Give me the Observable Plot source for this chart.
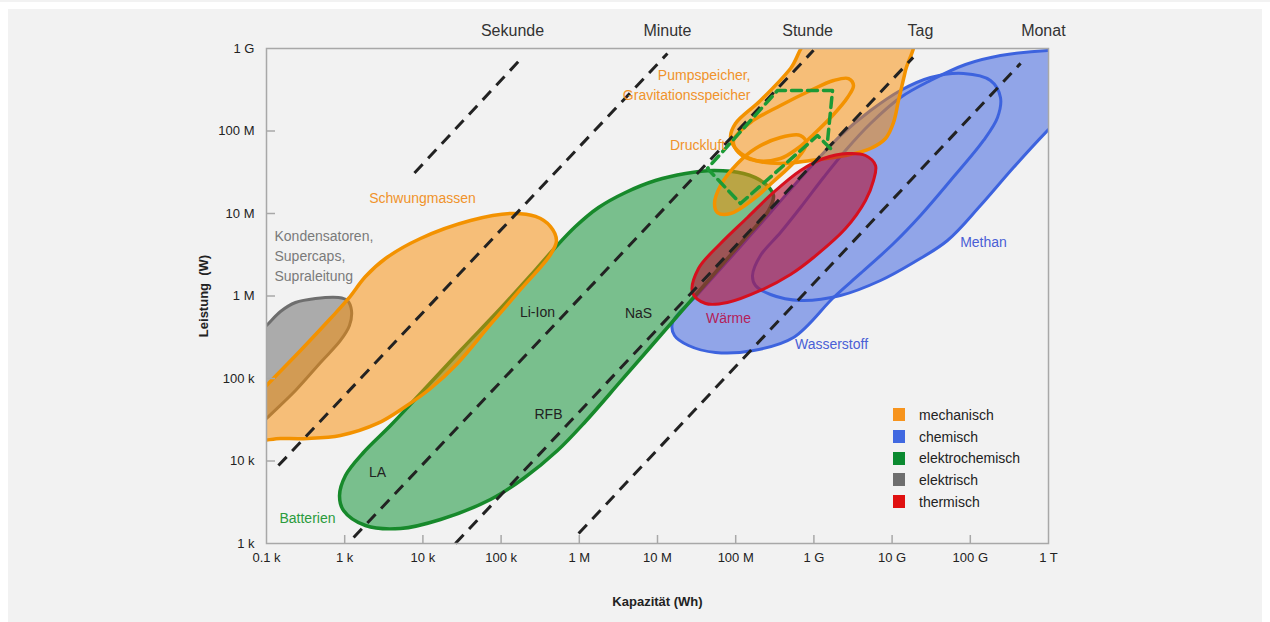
<!DOCTYPE html>
<html><head><meta charset="utf-8">
<script src="https://cdn.jsdelivr.net/npm/d3@7"></script>
<script src="https://cdn.jsdelivr.net/npm/@observablehq/plot@0.6"></script>
<style>
html,body{margin:0;padding:0;background:#fff;}
body{width:1270px;height:622px;position:relative;overflow:hidden;font-family:"Liberation Sans",Arial,sans-serif;}
#topstrip{position:absolute;left:0;top:0;width:1270px;height:2px;background:#f2f2f2;}
#panel{position:absolute;left:8px;top:9px;width:1254px;height:613px;background:#f2f2f2;}
#chart{position:absolute;left:0;top:0;}
#legend{position:absolute;left:893px;top:404px;font-size:14px;color:#222;}
.item{display:flex;align-items:center;height:21.7px;}
.sw{width:12px;height:13px;margin-right:14px;flex:none;}
</style></head><body>
<div id="topstrip"></div><div id="panel"></div><div id="chart"></div><div id="legend"></div>
<script>
// ---- axis ticks ----
const xTicks = [1e2,1e3,1e4,1e5,1e6,1e7,1e8,1e9,1e10,1e11,1e12];
const xTickLabels = ["0.1 k","1 k","10 k","100 k","1 M","10 M","100 M","1 G","10 G","100 G","1 T"];
const yTicks = [1e3,1e4,1e5,1e6,1e7,1e8,1e9];
const yTickLabels = ["1 k","10 k","100 k","1 M","10 M","100 M","1 G"];

// ---- storage regions: outline points as [log10 Kapazität (Wh), log10 Leistung (W)] ----
const kondensatoren = [[1.795,5.461],[2.0,5.642],[2.179,5.812],[2.371,5.921],[2.627,5.970],[2.921,5.982],[3.036,5.945],[3.087,5.824],[3.061,5.642],[2.946,5.461],[2.691,5.194],[2.371,4.855],[2.0,4.515],[1.795,4.321]];
const schwungmassen = [[1.795,4.273],[1.795,4.709],[2.0,4.915],[2.435,5.339],[2.818,5.727],[3.049,5.970],[3.266,6.236],[3.522,6.455],[3.969,6.697],[4.609,6.915],[5.120,7.0],[5.440,6.964],[5.632,6.842],[5.708,6.673],[5.632,6.503],[5.248,6.079],[4.864,5.655],[4.442,5.182],[4.097,4.879],[3.778,4.661],[3.419,4.455],[2.946,4.309],[2.524,4.273],[2.179,4.273]];
const batterien = [[2.934,3.582],[3.010,3.824],[3.240,4.103],[3.586,4.430],[3.969,4.818],[4.481,5.339],[4.992,5.848],[5.376,6.248],[5.670,6.564],[5.951,6.842],[6.246,7.073],[6.591,7.255],[6.974,7.4],[7.358,7.485],[7.716,7.521],[8.100,7.485],[8.355,7.376],[8.483,7.218],[8.419,7.036],[8.061,6.636],[7.550,6.079],[7.038,5.521],[6.527,4.964],[6.079,4.479],[5.721,4.127],[5.286,3.788],[4.864,3.533],[4.225,3.291],[3.714,3.182],[3.266,3.218],[2.985,3.4]];
const pumpspeicher = [[8.957,9.121],[10.261,9.121],[10.171,8.733],[10.082,8.370],[10.018,8.103],[9.916,7.909],[9.724,7.788],[9.404,7.703],[8.957,7.642],[8.573,7.606],[8.253,7.642],[8.023,7.764],[7.934,7.921],[7.997,8.091],[8.317,8.370],[8.701,8.758]];
const gravitation = [[7.972,7.885],[8.189,8.103],[8.573,8.309],[8.957,8.491],[9.251,8.612],[9.443,8.636],[9.506,8.552],[9.430,8.406],[9.251,8.2],[8.995,7.958],[8.790,7.788],[8.573,7.667],[8.253,7.642],[8.036,7.739]];
const druckluft = [[7.729,7.121],[7.806,7.339],[8.023,7.606],[8.253,7.788],[8.573,7.921],[8.829,7.945],[8.905,7.848],[8.765,7.642],[8.483,7.388],[8.253,7.194],[7.934,7.0],[7.767,7.012]];
const waerme = [[7.448,6.042],[7.524,6.333],[7.806,6.636],[8.151,6.952],[8.483,7.255],[8.829,7.521],[9.123,7.667],[9.430,7.727],[9.660,7.703],[9.788,7.582],[9.762,7.4],[9.660,7.158],[9.404,6.818],[8.995,6.467],[8.701,6.261],[8.317,6.067],[7.895,5.921],[7.614,5.909]];
const wasserstoff = [[7.192,5.679],[7.524,6.030],[7.959,6.491],[8.445,7.012],[8.893,7.497],[9.340,7.945],[9.724,8.248],[10.107,8.491],[10.491,8.648],[10.913,8.697],[11.258,8.612],[11.386,8.406],[11.348,8.164],[11.169,7.885],[10.747,7.4],[10.363,6.976],[10.018,6.636],[9.596,6.273],[9.251,5.982],[8.739,5.497],[8.228,5.339],[7.742,5.315],[7.396,5.4],[7.217,5.521]];
const methan = [[8.215,6.248],[8.317,6.491],[8.573,6.770],[8.829,7.073],[9.123,7.436],[9.404,7.764],[9.724,8.091],[10.107,8.406],[10.491,8.612],[10.939,8.806],[11.386,8.915],[11.987,8.976],[12.217,8.976],[12.217,8.224],[11.987,8.006],[11.552,7.558],[11.130,7.097],[10.708,6.673],[10.274,6.406],[9.852,6.188],[9.340,6.006],[8.829,5.945],[8.445,6.018],[8.253,6.127]];
// green dashed outline (open polyline)
const dashedGreen = [[9.212,7.788],[9.046,7.945],[8.061,7.121],[7.639,7.545],[8.535,8.491],[9.238,8.491],[9.174,7.873]];

// ---- time lines (Wh, W endpoints) ----
const timeLines = [
  {name:"Sekunde", e1:7.8e3, p1:3.1e7, e2:1.82e5, p2:7.6e8},
  {name:"Minute",  e1:142,   p1:8.8e3, e2:1.34e7, p2:8.7e8},
  {name:"Stunde",  e1:1.3e3, p1:1.18e3, e2:9.9e8, p2:9.5e8},
  {name:"Tag",     e1:2.6e4, p1:1.0e3, e2:1.86e10, p2:7.8e8},
  {name:"Monat",   e1:9.8e5, p1:1.32e3, e2:4.4e11, p2:6.6e8}
];
const timeLabels = [
  {text:"Sekunde", e:1.4e5}, {text:"Minute", e:1.34e7}, {text:"Stunde", e:8.3e8},
  {text:"Tag", e:2.3e10}, {text:"Monat", e:8.6e11}
];

// ---- region labels (log10 Wh, log10 W) ----
const centerLabels = [
  {text:"Schwungmassen", le:3.995, lp:7.182, cat:"mechanisch"},
  {text:"Li-Ion", le:5.465, lp:5.8, cat:"tech"},
  {text:"NaS", le:6.757, lp:5.788, cat:"tech"},
  {text:"RFB", le:5.606, lp:4.564, cat:"tech"},
  {text:"LA", le:3.419, lp:3.861, cat:"tech"},
  {text:"Batterien", le:2.524, lp:3.303, cat:"elektrochemisch"},
  {text:"Druckluft", le:7.512, lp:7.824, cat:"mechanisch"},
  {text:"Wärme", le:7.908, lp:5.727, cat:"thermisch"},
  {text:"Wasserstoff", le:9.225, lp:5.412, cat:"chemisch"},
  {text:"Methan", le:11.169, lp:6.648, cat:"chemisch"}
];
const leftLabels = [
  {text:"Kondensatoren,", le:2.102, lp:6.721, cat:"elektrisch"},
  {text:"Supercaps,", le:2.102, lp:6.479, cat:"elektrisch"},
  {text:"Supraleitung", le:2.102, lp:6.236, cat:"elektrisch"}
];
const rightLabels = [
  {text:"Pumpspeicher,", le:8.189, lp:8.673, cat:"mechanisch"},
  {text:"Gravitationsspeicher", le:8.189, lp:8.430, cat:"mechanisch"}
];

const legendItems = ["mechanisch","chemisch","elektrochemisch","elektrisch","thermisch"];

// ---- styles ----
const legendColor = {mechanisch:"#f7941d", chemisch:"#4169e1", elektrochemisch:"#0b8a30", elektrisch:"#6e6e6e", thermisch:"#e01010"};
const textColor = {mechanisch:"#f0932b", chemisch:"#4a5fd6", elektrochemisch:"#2a9b3c", elektrisch:"#7a7a7a", thermisch:"#b41e5a", tech:"#222"};

const toRows = (name, pts) => pts.map(([le, lp]) => ({name, e: 10 ** le, p: 10 ** lp}));
const regions = {kondensatoren, schwungmassen, batterien, pumpspeicher, gravitation, druckluft, waerme, wasserstoff, methan};
const rows = Object.entries(regions).flatMap(([n, pts]) => toRows(n, pts));
const pick = names => rows.filter(r => names.includes(r.name));

const fillMark = (names, fill, opts = {}) => Plot.line(pick(names), {x:"e", y:"p", z:"name", curve:"catmull-rom-closed", fill, stroke:"none", clip:true, ...opts});
const strokeMark = (names, stroke, w) => Plot.line(pick(names), {x:"e", y:"p", z:"name", curve:"catmull-rom-closed", fill:"none", stroke, strokeWidth:w, clip:true});

const xFmt = new Map(xTicks.map((t, i) => [t, xTickLabels[i]]));
const yFmt = new Map(yTicks.map((t, i) => [t, yTickLabels[i]]));
const lblRow = d => ({...d, e: 10 ** d.le, p: 10 ** d.lp});

const blue = ["wasserstoff","methan"];
const orange = ["schwungmassen","pumpspeicher","druckluft","gravitation"];

const svg = Plot.plot({
  width:1270, height:622,
  marginLeft:266, marginRight:222, marginTop:48, marginBottom:79,
  style:{background:"transparent", fontFamily:"'Liberation Sans', Arial, sans-serif", fontSize:"13px", color:"#222"},
  x:{type:"log", domain:[1e2,1e12], ticks:xTicks, tickFormat:d => xFmt.get(d) ?? "", tickSize:0, tickPadding:9,
     label:"Kapazität (Wh)", labelAnchor:"center", labelOffset:62, labelArrow:"none"},
  y:{type:"log", domain:[1e3,1e9], ticks:yTicks, tickFormat:d => yFmt.get(d) ?? "", tickSize:0, tickPadding:12,
     label:"Leistung  (W)", labelAnchor:"center", labelOffset:68, labelArrow:"none"},
  marks:[
    fillMark(blue, "#91a5e8"),
    strokeMark(blue, "#3d63de", 3),
    fillMark(["kondensatoren"], "rgb(100,100,100)", {fillOpacity:0.5}),
    strokeMark(["kondensatoren"], "#6e6e6e", 3),
    fillMark(["batterien"], "rgb(0,140,40)", {fillOpacity:0.5}),
    strokeMark(["batterien"], "#17892b", 3.5),
    fillMark(orange, "rgb(250,140,0)", {fillOpacity:0.5, ariaDescription:"orange-fills"}),
    strokeMark(orange, "#f39200", 3.5),
    fillMark(["waerme"], "rgb(180,15,50)", {fillOpacity:0.6}),
    strokeMark(["waerme"], "#d6101e", 3),
    Plot.link(timeLines, {x1:"e1", y1:"p1", x2:"e2", y2:"p2", stroke:"#222", strokeWidth:3, strokeDasharray:"12,8"}),
    Plot.line(toRows("dashed", dashedGreen), {x:"e", y:"p", stroke:"#1c9a36", strokeWidth:3.5, strokeDasharray:"10,6", curve:"linear"}),
    Plot.frame({stroke:"#a8a8a8", strokeWidth:1.5}),
    Plot.tickX(xTicks.slice(1, -1), {x:d => d, stroke:"#a8a8a8", strokeWidth:1.5, insetTop:487}),
    Plot.tickY(yTicks.slice(1, -1), {y:d => d, stroke:"#a8a8a8", strokeWidth:1.5, insetRight:773}),
    Plot.text(centerLabels.map(lblRow), {x:"e", y:"p", text:"text", fill:d => textColor[d.cat], fontSize:14}),
    Plot.text(leftLabels.map(lblRow), {x:"e", y:"p", text:"text", fill:d => textColor[d.cat], fontSize:14, textAnchor:"start"}),
    Plot.text(rightLabels.map(lblRow), {x:"e", y:"p", text:"text", fill:d => textColor[d.cat], fontSize:14, textAnchor:"end"}),
    Plot.text(timeLabels, {x:"e", y:() => 1e9, dy:-18, text:"text", fill:"#333", fontSize:16})
  ]
});

// merge overlapping orange fills into one uniformly translucent layer
const og = svg.querySelector('g[aria-description="orange-fills"]');
if (og) {
  og.setAttribute("fill-opacity", 1);
  og.querySelectorAll("path").forEach(p => p.setAttribute("fill-opacity", 1));
  og.setAttribute("opacity", 0.5);
}
svg.querySelectorAll('g[aria-label="x-axis label"] text, g[aria-label="y-axis label"] text').forEach(t => {
  t.setAttribute("font-weight", "bold");
  t.style.whiteSpace = "pre";
});
document.getElementById("chart").appendChild(svg);

const legend = document.getElementById("legend");
legendItems.forEach(name => {
  const item = document.createElement("div");
  item.className = "item";
  item.innerHTML = `<div class="sw" style="background:${legendColor[name]}"></div><span>${name}</span>`;
  legend.appendChild(item);
});
</script>
</body></html>
